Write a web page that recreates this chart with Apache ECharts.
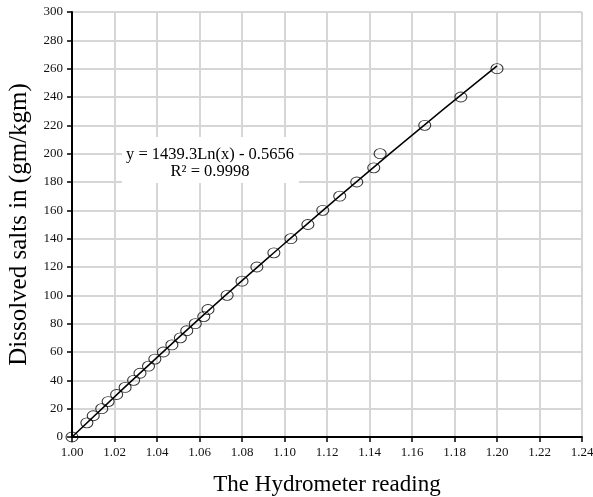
<!DOCTYPE html>
<html>
<head>
<meta charset="utf-8">
<script src="https://cdn.jsdelivr.net/npm/echarts@6/dist/echarts.min.js"></script>
<style>
  html, body { margin: 0; padding: 0; background: #fff; }
  #chart { width: 593px; height: 497px; }
</style>
</head>
<body>
<div id="chart"></div>
<script>
// measured points (hydrometer reading, dissolved salts)
var hydrometer = [1.000, 1.007, 1.010, 1.014, 1.017, 1.021, 1.025, 1.029, 1.032, 1.036,
  1.039, 1.043, 1.047, 1.051, 1.054, 1.058, 1.062, 1.064, 1.073, 1.080,
  1.087, 1.095, 1.103, 1.111, 1.118, 1.126, 1.134, 1.142, 1.145, 1.166,
  1.183, 1.200];
var salts = [0, 10, 15, 20, 25, 30, 35, 40, 45, 50,
  55, 60, 65, 70, 75, 80, 85, 90, 100, 110,
  120, 130, 140, 150, 160, 170, 180, 190, 200, 220,
  240, 260];
// trend line
var trendX = [1.00, 1.05, 1.10, 1.15, 1.20];
var trendY = [0, 70, 136.6, 200.6, 262];
var eqText = "y = 1439.3Ln(x) - 0.5656";
var r2Text = "R\u00b2 = 0.9998";

var chart = echarts.init(document.getElementById("chart"));
var serif = "'Liberation Serif', 'Times New Roman', serif";

var option = {
  backgroundColor: "#fff",
  animation: false,
  grid: {
    left: 72,
    right: 11,
    top: 12,
    bottom: 60,
    outerBoundsMode: "none",
    containLabel: false,
    show: true,
    borderColor: "#000",
    borderWidth: 1,
    backgroundColor: "#fff",
  },
  xAxis: {
    type: "value",
    min: 1.0,
    max: 1.24,
    interval: 0.02,
    name: "The Hydrometer reading",
    nameLocation: "middle",
    nameGap: 36,
    nameTextStyle: { fontFamily: serif, fontSize: 23, color: "#000" },
    axisLine: { show: true, lineStyle: { color: "#000", width: 2 } },
    axisTick: { show: true, length: 5, lineStyle: { color: "#000", width: 1.5 } },
    axisLabel: {
      fontFamily: serif,
      fontSize: 13,
      color: "#111",
      margin: 9,
      formatter: function (v) { return v.toFixed(2); },
    },
    splitLine: { show: true, lineStyle: { color: "#d6d6d6", width: 2 } },
  },
  yAxis: {
    type: "value",
    min: 0,
    max: 300,
    interval: 20,
    name: "Dissolved salts in (gm/kgm)",
    nameLocation: "middle",
    nameGap: 40,
    nameTextStyle: { fontFamily: serif, fontSize: 25, color: "#000" },
    axisLine: { show: true, lineStyle: { color: "#000", width: 2 } },
    axisTick: { show: true, length: 5, lineStyle: { color: "#000", width: 1.5 } },
    axisLabel: { fontFamily: serif, fontSize: 13, color: "#111", margin: 9 },
    splitLine: { show: true, lineStyle: { color: "#d6d6d6", width: 2 } },
  },
  series: [
    {
      type: "scatter",
      data: hydrometer.map(function (x, i) { return [x, salts[i]]; }),
      symbol: "circle",
      symbolSize: [12, 10],
      itemStyle: { color: "rgba(255,255,255,0)", borderColor: "#000", borderWidth: 1 },
      z: 2,
    },
    {
      type: "line",
      data: trendX.map(function (x, i) { return [x, trendY[i]]; }),
      smooth: true,
      showSymbol: false,
      lineStyle: { color: "#000", width: 1.5 },
      z: 3,
    },
  ],
  graphic: [
    {
      type: "rect",
      shape: { x: 122, y: 137, width: 177, height: 46 },
      style: { fill: "#fff" },
      z: 10,
    },
    {
      type: "text",
      x: 210,
      y: 155,
      style: {
        text: eqText,
        font: "16.5px " + serif,
        fill: "#000",
        align: "center",
        verticalAlign: "middle",
      },
      z: 11,
    },
    {
      type: "text",
      x: 210,
      y: 172,
      style: {
        text: r2Text,
        font: "16.5px " + serif,
        fill: "#000",
        align: "center",
        verticalAlign: "middle",
      },
      z: 11,
    },
  ],
};
chart.setOption(option);
</script>
</body>
</html>
